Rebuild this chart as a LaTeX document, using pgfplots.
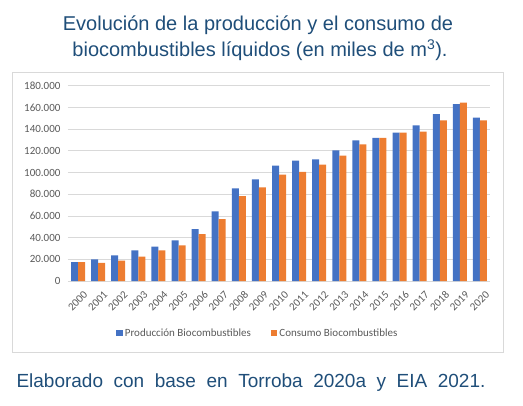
\documentclass[border=0pt]{standalone}
\usepackage{pgfplots}
\pgfplotsset{compat=1.18}
\usepackage{fontspec}
\setmainfont{Liberation Sans}
\newfontfamily\calibri{Carlito}
\definecolor{cblue}{HTML}{4472C4}
\definecolor{corange}{HTML}{ED7D31}
\definecolor{cgrid}{HTML}{D9D9D9}
\definecolor{ctick}{HTML}{595959}
\definecolor{ctitle}{HTML}{1F4E79}
\begin{document}
\begin{tikzpicture}[x=1pt,y=1pt]
\useasboundingbox (0,0) rectangle (523,405);
\draw[cgrid, line width=0.8pt] (12,53) rectangle (503,333);
\node[anchor=base, font=\fontsize{20}{24}\selectfont, text=ctitle] at (258,374) {Evolución de la producción y el consumo de};
\node[anchor=base, font=\fontsize{20}{24}\selectfont, text=ctitle] at (260,348) {biocombustibles líquidos (en miles de m\textsuperscript{3}).};
\node[anchor=base, font=\fontsize{19}{23}\selectfont, text=ctitle] at (251,17) {Elaborado\ \ con\ \ base\ \ en\ \ Torroba\ \ 2020a\ \ y\ \ EIA\ \ 2021.};
\begin{axis}[
  at={(68pt,124pt)}, anchor=south west,
  scale only axis, width=422pt, height=195.3pt,
  ybar=0pt, bar width=7pt,
  xmin=-0.5, xmax=20.5, ymin=0, ymax=180000,
  xtick={0,...,20},
  xticklabels={2000,2001,2002,2003,2004,2005,2006,2007,2008,2009,2010,2011,2012,2013,2014,2015,2016,2017,2018,2019,2020},
  ytick={0,20000,...,180000},
  scaled y ticks=false,
  /pgf/number format/fixed, /pgf/number format/1000 sep={.}, /pgf/number format/assume math mode=true,
  ticklabel style={font=\calibri\fontsize{11}{12}\selectfont, text=ctick},
  xticklabel style={rotate=45, anchor=north east, inner sep=1pt, xshift=1pt, yshift=-6pt},
  yticklabel style={xshift=-4pt},
  tick style={draw=none},
  axis line style={draw=none},
  ymajorgrids, grid style={cgrid, line width=0.8pt},
  legend style={at={(0.45,-0.268)}, anchor=center, draw=none, fill=none,
    legend columns=2, font=\calibri\fontsize{11}{12}\selectfont, text=ctick,
    /tikz/every even column/.append style={column sep=18pt}},
  legend image code/.code={\fill[#1] (0pt,-3pt) rectangle (6.5pt,3.5pt);},
  legend cell align=left,
]
\addplot[fill=cblue, draw=none] coordinates {
(0,17500) (1,20000) (2,23700) (3,28300) (4,31600) (5,37500) (6,47900) (7,64200) (8,85400) (9,93700)
(10,106300) (11,110900) (12,112100) (13,120400) (14,129600) (15,131800) (16,136700) (17,143500) (18,153900) (19,163100) (20,150500)};
\addlegendentry{Producción Biocombustibles}
\addplot[fill=corange, draw=none] coordinates {
(0,17500) (1,16600) (2,18700) (3,22400) (4,28300) (5,32900) (6,43300) (7,57100) (8,78300) (9,86300)
(10,98000) (11,100500) (12,107200) (13,115500) (14,126000) (15,131800) (16,136700) (17,137600) (18,148000) (19,164300) (20,148000)};
\addlegendentry{Consumo Biocombustibles}
\end{axis}
\end{tikzpicture}
\end{document}
